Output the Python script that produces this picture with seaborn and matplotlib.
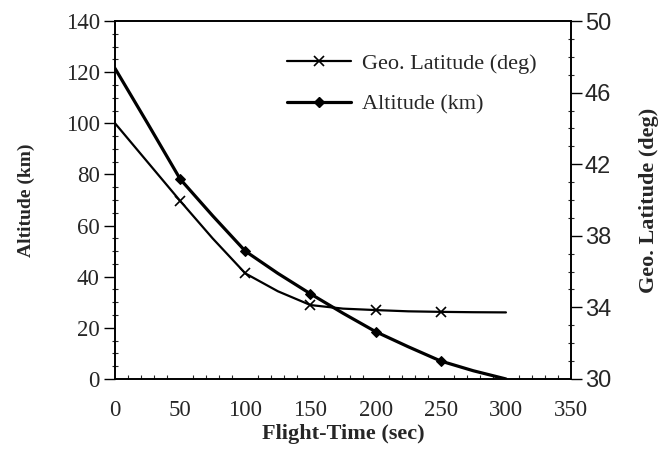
import matplotlib
matplotlib.use("Agg")
import matplotlib.pyplot as plt
import seaborn as sns
import pandas as pd
from matplotlib.ticker import MultipleLocator
from matplotlib.lines import Line2D

time_sec = [0, 25, 50, 75, 100, 125, 150, 175, 200, 225, 250, 275, 300]
altitude_km = [121.5, 100.0, 78.2, 63.8, 50.0, 41.3, 33.3, 25.7, 18.5, 12.6, 7.0, 3.2, 0.0]
latitude_deg = [44.29, 42.12, 39.95, 37.85, 35.9, 34.9, 34.13, 33.93, 33.85, 33.78, 33.75, 33.73, 33.72]
marker_idx = [2, 4, 6, 8, 10]

sns.set_theme(style="white")
plt.rcParams['font.family'] = ['Liberation Serif', 'DejaVu Serif']

df = pd.DataFrame({"t": time_sec, "alt": altitude_km, "lat": latitude_deg})

fig = plt.figure(figsize=(6.61, 4.49), dpi=100)
ax = fig.add_axes([0.174, 0.156, 0.69, 0.797])
ax2 = ax.twinx()

sns.lineplot(data=df, x="t", y="alt", ax=ax, color="black", lw=2.3,
             marker="D", markersize=5, markevery=marker_idx,
             markeredgecolor="black", markerfacecolor="black")
sns.lineplot(data=df, x="t", y="lat", ax=ax2, color="black", lw=1.6,
             marker="x", markersize=7, markevery=marker_idx,
             markeredgecolor="black", markeredgewidth=1.2)

ax.set_xlim(0, 350)
ax.set_ylim(0, 140)
ax2.set_ylim(30, 50)
ax.set_xticks(range(0, 351, 50))
ax.set_yticks(range(0, 141, 20))
ax2.set_yticks(range(30, 51, 4))
ax.xaxis.set_minor_locator(MultipleLocator(10))
ax.yaxis.set_minor_locator(MultipleLocator(5))
ax2.yaxis.set_minor_locator(MultipleLocator(1))

for a in (ax, ax2):
    for s in a.spines.values():
        s.set_color("black")
        s.set_linewidth(1.2)

ax.tick_params(axis="both", which="major", direction="out", length=8, width=1,
               color="black", labelsize=16.5)
ax.tick_params(axis="x", which="major", pad=7)
ax.tick_params(axis="y", which="major", pad=3)
ax.tick_params(axis="x", which="minor", direction="in", length=3, width=0.8, bottom=True)
ax.tick_params(axis="y", which="minor", direction="inout", length=4, width=0.8, left=True)
ax2.tick_params(axis="y", which="major", direction="out", length=8, width=1,
                color="black", labelsize=17, pad=2)
ax2.tick_params(axis="y", which="minor", direction="inout", length=4, width=0.8, right=True)
for lab in ax2.get_yticklabels():
    lab.set_family(['Liberation Sans', 'DejaVu Sans'])

ax.set_xlabel("Flight-Time (sec)", fontsize=16, fontweight="bold", labelpad=2)
ax.set_ylabel("Altitude (km)", fontsize=14, fontweight="bold", labelpad=22)
ax2.set_ylabel("Geo. Latitude (deg)", fontsize=16, fontweight="bold", labelpad=20)

handles = [
    Line2D([], [], color="black", lw=1.6, marker="x", markersize=7, markeredgewidth=1.2),
    Line2D([], [], color="black", lw=2.3, marker="D", markersize=5),
]
leg = ax.legend(handles, ["Geo. Latitude (deg)", "Altitude (km)"], loc="upper left",
                bbox_to_anchor=(0.333, 0.965), frameon=False, fontsize=16,
                handlelength=2.9, handletextpad=0.5, labelspacing=0.9)

fig.savefig("out.png", dpi=100)
